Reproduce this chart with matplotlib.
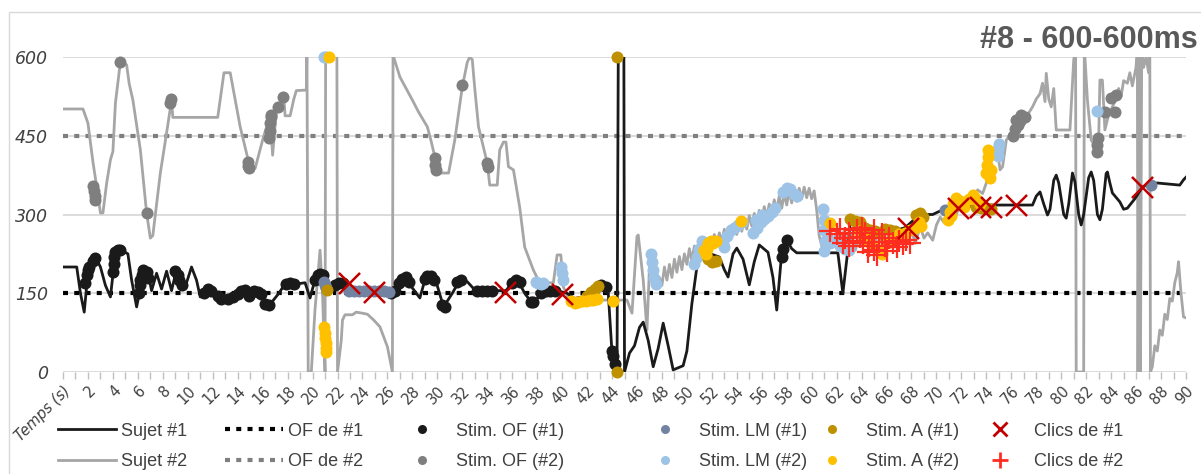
import numpy as np
import matplotlib
matplotlib.use("Agg")
import matplotlib.pyplot as plt
from matplotlib.lines import Line2D
from matplotlib.patches import Rectangle

# Sujet #1 (time s, value ms)
s1 = [(0, 200), (1.1, 200), (1.4, 150), (1.7, 114), (2.0, 190), (2.3, 210), (2.6, 219), (3.0, 200),
      (3.4, 165), (3.8, 143), (4.0, 185), (4.2, 230), (4.7, 232), (5.2, 225), (5.5, 175), (5.9, 124),
      (6.2, 160), (6.5, 195), (6.8, 190), (7.1, 155), (7.5, 188), (7.9, 158), (8.3, 192), (8.7, 155),
      (9.1, 195), (9.5, 160), (9.9, 170), (10.3, 200), (10.7, 175), (11.0, 143), (11.4, 152), (11.8, 160),
      (12.2, 148), (12.6, 140), (13.0, 142), (13.4, 140), (13.8, 143), (14.2, 152), (14.6, 158), (15.0, 145),
      (15.4, 155), (15.8, 150), (16.3, 128), (16.8, 135), (17.3, 150), (17.8, 168), (18.2, 170), (18.8, 168),
      (19.4, 170), (19.8, 141), (20.3, 185), (20.8, 185), (21.3, 155), (21.7, 165), (22.2, 170), (22.8, 160),
      (23.5, 155), (24.5, 155), (25.5, 155), (26.2, 150), (26.5, 155), (27.0, 175), (27.5, 181), (28.0, 160),
      (28.6, 141), (29.0, 175), (29.3, 183), (29.8, 180), (30.5, 124), (31.2, 150), (31.8, 175), (32.4, 172),
      (32.9, 159), (33.5, 155), (34.5, 155), (35.5, 155), (36.0, 170), (36.4, 177), (37.0, 150), (37.6, 131),
      (38.0, 140), (38.6, 152), (39.5, 155), (40.4, 150), (41.0, 140), (42.0, 145), (42.8, 160), (43.3, 166),
      (43.7, 150), (44.0, 36), (44.4, 4), (44.5, 600), (44.95, 600), (45.0, 0), (45.4, 36), (45.8, 50),
      (46.2, 85), (46.5, 95), (46.9, 60), (47.3, 10), (47.7, 45), (48.1, 93), (48.5, 50), (48.9, 4),
      (49.7, 12), (50.0, 40), (50.4, 130), (50.8, 200), (51.2, 223), (51.9, 225), (52.6, 219), (53.0, 195),
      (53.3, 181), (53.7, 225), (54.0, 236), (54.5, 215), (55.0, 166), (55.4, 210), (55.8, 242), (56.5, 228),
      (56.9, 180), (57.2, 118), (57.6, 227), (58.0, 251), (58.4, 235), (58.8, 227), (62.1, 227), (62.5, 150),
      (62.9, 232), (63.1, 293), (63.5, 285), (64.5, 275), (65.5, 270), (66.5, 268), (67.5, 275), (68.2, 290),
      (68.9, 300), (69.7, 300), (70.5, 309), (71.5, 312), (72.5, 315), (73.5, 316), (74.0, 318), (77.7, 318),
      (78.0, 335), (78.3, 343), (78.6, 320), (78.9, 299), (79.1, 310), (79.4, 365), (79.6, 375), (79.8, 360),
      (80.2, 300), (80.4, 293), (80.6, 320), (80.9, 379), (81.1, 362), (81.4, 300), (81.6, 280), (81.8, 300),
      (82.2, 370), (82.4, 381), (82.6, 365), (82.9, 300), (83.1, 290), (83.3, 310), (83.6, 378), (83.7, 381),
      (83.9, 360), (84.1, 341), (84.7, 324), (85.0, 310), (85.3, 312), (85.9, 330), (86.5, 352), (87.0, 358),
      (87.7, 360), (89.5, 356), (89.8, 366), (90.0, 371)]

# Sujet #2
s2 = [(0, 501), (1.6, 501), (2.0, 474), (2.4, 400), (2.7, 353), (3.0, 303), (3.2, 303), (3.5, 360),
      (3.8, 404), (4.0, 420), (4.2, 512), (4.6, 591), (5.1, 585), (5.3, 550), (5.6, 518), (6.2, 423),
      (6.7, 303), (7.0, 255), (7.2, 260), (7.5, 320), (7.8, 379), (8.3, 455), (8.7, 518), (8.8, 485),
      (12.4, 485), (12.9, 570), (13.4, 570), (14.2, 467), (14.9, 398), (15.4, 388), (16.0, 442), (16.6, 490),
      (16.8, 413), (17.1, 499), (17.7, 524), (17.8, 488), (18.2, 488), (18.5, 520), (18.7, 536), (19.5, 537),
      (19.55, 620), (19.65, 0), (19.9, 0), (20.2, 120), (20.6, 232), (20.8, 150), (21.0, 0), (21.05, 620),
      (21.95, 620), (22.0, 0), (22.3, 60), (22.4, 99), (22.6, 109), (23.2, 109), (23.5, 114), (24.0, 112),
      (24.4, 110), (24.9, 99), (25.4, 86), (26.0, 48), (26.4, 0), (26.45, 620), (26.5, 600), (27.0, 562),
      (28.0, 518), (28.5, 495), (29.2, 467), (29.5, 440), (29.8, 410), (30.0, 379), (30.9, 379), (31.4, 442),
      (32.0, 543), (32.4, 590), (32.6, 600), (32.8, 595), (33.0, 540), (33.3, 467), (34.0, 398), (34.2, 356),
      (34.8, 356), (35.0, 423), (35.3, 438), (35.5, 438), (35.7, 391), (36.1, 385), (36.6, 314), (37.0, 238),
      (37.7, 194), (38.2, 170), (39.3, 170), (39.6, 223), (39.9, 223), (40.1, 162), (40.6, 137), (45.2, 137),
      (45.6, 112), (46.0, 258), (46.1, 261), (46.5, 175), (46.8, 80), (47.0, 200), (47.2, 226), (47.6, 162),
      (47.8, 180), (48.0, 165), (48.2, 200), (48.4, 175), (48.6, 205), (48.8, 180), (49.0, 215), (49.2, 190),
      (49.4, 220), (49.6, 195), (49.8, 225), (50.0, 205), (50.2, 235), (50.4, 212), (50.6, 240), (50.8, 220),
      (51.0, 245), (51.2, 228), (51.4, 250), (51.6, 232), (51.8, 255), (52.0, 238), (52.2, 262), (52.4, 242),
      (52.6, 265), (52.8, 248), (53.0, 272), (53.2, 252), (53.4, 277), (53.6, 258), (53.8, 282), (54.0, 262),
      (54.2, 288), (54.4, 268), (54.6, 292), (54.8, 272), (55.0, 298), (55.2, 278), (55.4, 302), (55.6, 282),
      (55.8, 308), (56.0, 290), (56.2, 315), (56.4, 295), (56.6, 320), (56.8, 300), (57.0, 328), (57.2, 308),
      (57.4, 335), (57.6, 312), (57.8, 340), (58.0, 318), (58.2, 345), (58.4, 322), (58.6, 348), (58.8, 325),
      (59.0, 350), (59.2, 330), (59.4, 352), (59.6, 332), (59.8, 350), (60.0, 330), (60.2, 345), (60.4, 309),
      (60.6, 260), (60.9, 232), (61.1, 260), (61.3, 240), (61.5, 270), (61.7, 245), (62.0, 268), (62.3, 240),
      (62.6, 270), (62.9, 235), (63.2, 262), (63.5, 232), (63.8, 260), (64.1, 238), (64.4, 262), (64.7, 240),
      (65.0, 265), (65.3, 240), (65.6, 258), (65.9, 238), (66.2, 262), (66.5, 240), (66.8, 265), (67.1, 245),
      (67.4, 268), (67.7, 248), (68.0, 270), (68.3, 245), (68.7, 277), (69.0, 255), (69.3, 265), (69.7, 251),
      (70.0, 280), (70.3, 295), (70.6, 285), (71.0, 300), (71.4, 290), (71.8, 312), (72.4, 328), (72.8, 318),
      (73.3, 347), (73.7, 340), (74.0, 360), (74.1, 404), (74.5, 420), (74.9, 420), (75.1, 385), (75.3, 391),
      (75.6, 442), (75.9, 451), (76.2, 460), (76.6, 475), (77.2, 486), (77.7, 505), (78.0, 520), (78.3, 530),
      (78.5, 550), (78.7, 515), (78.8, 569), (79.0, 520), (79.2, 505), (79.4, 540), (79.6, 461), (80.0, 461),
      (80.7, 461), (81.0, 594), (81.15, 620), (81.2, 0), (81.8, 0), (81.85, 620), (82.1, 518), (82.4, 442),
      (82.9, 423), (83.0, 440), (83.1, 556), (83.3, 556), (83.5, 461), (83.8, 490), (84.0, 500), (84.3, 515),
      (84.6, 540), (84.8, 525), (85.0, 555), (85.3, 550), (85.5, 570), (85.7, 545), (86.0, 581), (86.1, 620),
      (86.15, 0), (86.25, 620), (86.35, 0), (86.45, 620), (86.6, 580), (86.8, 600), (87.0, 570), (87.1, 620),
      (87.15, 0), (87.3, 10), (87.5, 50), (87.7, 40), (87.9, 80), (88.1, 70), (88.3, 110), (88.5, 100),
      (88.7, 140), (88.9, 135), (89.1, 170), (89.3, 189), (89.4, 210), (89.6, 150), (89.8, 105), (90.0, 103)]

of1_level = 150
of2_level = 450

stim_of1 = [(1.8, 170), (1.9, 185), (2.0, 195), (2.1, 200), (2.4, 212), (2.6, 218), (4.0, 190), (4.05, 205),
            (4.1, 220), (4.2, 228), (4.4, 232), (4.6, 232), (6.1, 150), (6.15, 165), (6.2, 175), (6.3, 185),
            (6.4, 195), (6.7, 190), (6.8, 180), (9.0, 192), (9.2, 185), (9.3, 175), (9.5, 165), (11.3, 150),
            (11.6, 158), (11.9, 155), (12.4, 145), (12.7, 140), (13.2, 140), (13.6, 142), (14.0, 148), (14.3, 155),
            (14.6, 156), (14.9, 145), (15.3, 155), (15.6, 152), (15.9, 148), (16.2, 130), (16.5, 128), (17.9, 168),
            (18.2, 170), (18.5, 168), (20.2, 175), (20.4, 185), (20.6, 186), (20.8, 185), (21.8, 165), (22.1, 170),
            (22.4, 170), (26.3, 150), (26.6, 155), (26.9, 170), (27.2, 178), (27.5, 181), (27.7, 172), (29.0, 178),
            (29.2, 183), (29.5, 183), (29.7, 175), (30.4, 128), (30.6, 124), (31.6, 172), (31.9, 176), (33.2, 155),
            (33.6, 155), (34.0, 155), (34.4, 155), (36.0, 170), (36.3, 176), (36.6, 172), (37.5, 133), (37.7, 133),
            (38.3, 150), (38.7, 155), (39.0, 155), (39.4, 155), (43.1, 165), (43.5, 162), (44.0, 40), (44.1, 30),
            (44.2, 15), (57.6, 220), (57.7, 235), (58.0, 251)]
stim_of2 = [(2.4, 355), (2.5, 345), (2.55, 335), (2.6, 328), (4.6, 591), (6.7, 303), (8.6, 512), (8.65, 520),
            (14.8, 400), (14.85, 392), (14.9, 388), (16.5, 445), (16.55, 460), (16.6, 475), (16.65, 485),
            (16.7, 490), (17.2, 505), (17.6, 524), (29.8, 408), (29.85, 395), (29.9, 385), (32.0, 547),
            (34.0, 398), (34.05, 390), (76.1, 450), (76.3, 462), (76.5, 470), (76.7, 478), (76.9, 485),
            (77.1, 486), (76.4, 480), (76.8, 490), (82.9, 420), (82.9, 432), (82.95, 445), (83.5, 495),
            (84.0, 522), (84.3, 495), (84.4, 528)]
stim_lm1 = [(20.9, 172), (21.0, 165), (21.1, 160), (22.9, 155), (23.3, 155), (23.7, 155), (24.1, 155),
            (24.5, 155), (24.9, 155), (25.3, 155), (25.7, 155), (26.1, 153), (70.7, 308), (87.2, 356)]
stim_lm2 = [(20.95, 600), (21.05, 600), (37.9, 172), (38.1, 170), (38.3, 168), (38.5, 170), (39.9, 200),
            (40.0, 188), (40.1, 176), (47.1, 225), (47.2, 210), (47.3, 195), (47.4, 180), (47.5, 168),
            (50.6, 205), (50.8, 220), (51.0, 235), (51.2, 250), (52.9, 245), (53.0, 238), (53.2, 260),
            (53.5, 270), (53.8, 275), (54.1, 280), (54.4, 285), (55.3, 265), (55.5, 290), (55.6, 275),
            (55.9, 285), (56.0, 300), (56.2, 292), (56.5, 298), (56.8, 305), (57.1, 312), (57.7, 342),
            (58.0, 350), (58.3, 348), (58.6, 340), (58.8, 335), (60.9, 310), (60.95, 290), (61.0, 270),
            (61.1, 250), (61.0, 230), (61.5, 245), (61.9, 250), (62.3, 240), (62.7, 235), (63.0, 232),
            (74.9, 412), (74.95, 425), (75.0, 434), (82.9, 497)]
stim_a1 = [(21.15, 156), (42.0, 145), (42.3, 152), (42.6, 158), (42.9, 163), (44.4, 0), (44.4, 600),
           (51.7, 215), (52.0, 210), (52.3, 212), (63.1, 292), (63.5, 288), (63.9, 285), (64.3, 275),
           (64.7, 270), (65.1, 268), (65.5, 265), (65.9, 272), (66.3, 270), (66.7, 268), (68.4, 300),
           (68.7, 302), (68.9, 296), (73.2, 315), (73.6, 312), (74.0, 313), (74.4, 310)]
stim_a2 = [(20.95, 85), (21.0, 75), (21.0, 65), (21.05, 55), (21.05, 45), (21.1, 38), (21.35, 600),
           (40.7, 135), (41.0, 132), (41.3, 133), (41.6, 135), (41.9, 135), (42.2, 137), (42.5, 138),
           (42.8, 140), (44.1, 135), (51.4, 232), (51.5, 225), (51.6, 235), (51.7, 245), (51.9, 250),
           (52.1, 245), (52.3, 250), (54.3, 288), (61.5, 284), (63.8, 268), (64.2, 255), (64.6, 248),
           (65.0, 240), (65.3, 232), (65.6, 225), (66.0, 245), (66.5, 255), (67.0, 262), (67.5, 265),
           (67.9, 270), (68.3, 275), (68.6, 285), (68.8, 278), (70.9, 290), (71.1, 305), (71.2, 298),
           (71.3, 320), (71.6, 332), (71.9, 325), (72.2, 315), (72.6, 330), (72.9, 338), (73.2, 330),
           (73.5, 320), (74.0, 380), (74.05, 395), (74.1, 410), (74.15, 423), (74.3, 370), (74.4, 385)]
clics1 = [(22.9, 170), (24.9, 153), (35.4, 153), (40.0, 149), (67.7, 274), (71.7, 312), (73.5, 314),
          (74.4, 314), (76.4, 318), (86.5, 352)]
clics2 = [(61.5, 268), (62.0, 262), (62.3, 272), (62.7, 255), (63.0, 265), (63.3, 250), (63.6, 270),
          (63.9, 258), (64.1, 245), (64.3, 265), (64.6, 240), (64.8, 255), (65.0, 232), (65.2, 222),
          (65.4, 248), (65.6, 262), (65.9, 240), (66.2, 255), (66.5, 245), (66.8, 238), (67.0, 250),
          (67.3, 243), (67.6, 252), (64.0, 275), (63.0, 240), (65.0, 270), (66.0, 230), (67.9, 245),
          (62.5, 245), (64.5, 228)]

title = "#8 - 600-600ms"
y_ticks = [0, 150, 300, 450, 600]
x_ticks = list(range(0, 91, 2))
x_labels = ["Temps (s)"] + [str(t) for t in x_ticks[1:]]

C_S1 = "#1a1a1a"
C_S2 = "#a6a6a6"
C_OF2 = "#7f7f7f"
C_LM1 = "#7283a2"
C_LM2 = "#9dc3e6"
C_A1 = "#bf9000"
C_A2 = "#ffc000"
C_CL1 = "#c00000"
C_CL2 = "#ff2d1f"
TXT = "#404040"

fig = plt.figure(figsize=(12.01, 4.74), dpi=100)
ax = fig.add_axes([63 / 1201, 1 - 372 / 474, (1186 - 63) / 1201, (372 - 57) / 474])

# chart border
fig.patches.append(Rectangle((9 / 1201, -0.02), 1.02, 1 - 12 / 474 + 0.02, transform=fig.transFigure,
                             fill=False, ec="#d9d9d9", lw=1))

for yv in y_ticks:
    ax.axhline(yv, color="#d9d9d9", lw=1.3, zorder=0)

def xy(pts):
    a = np.array(pts, dtype=float)
    return a[:, 0], a[:, 1]

ax.axhline(of1_level, color="black", lw=3, ls=(0, (1.2, 1.5)), zorder=1)
ax.axhline(of2_level, color=C_OF2, lw=3, ls=(0, (1.2, 1.5)), zorder=1)
t, v = xy(s2)
ax.plot(t, v, color=C_S2, lw=2.0, zorder=2, solid_joinstyle="round")
t, v = xy(s1)
ax.plot(t, v, color=C_S1, lw=2.0, zorder=3, solid_joinstyle="round")

ms = 75
for pts, c, z in [(stim_of1, C_S1, 4), (stim_of2, C_OF2, 4), (stim_lm1, C_LM1, 5), (stim_lm2, C_LM2, 5),
                  (stim_a1, C_A1, 6), (stim_a2, C_A2, 6)]:
    t, v = xy(pts)
    ax.scatter(t, v, s=ms, color=c, lw=0, zorder=z, clip_on=False)
t, v = xy(clics2)
ax.scatter(t, v, s=260, marker="+", color=C_CL2, lw=1.6, zorder=7)
t, v = xy(clics1)
ax.scatter(t, v, s=230, marker="x", color=C_CL1, lw=1.8, zorder=8)

ax.set_xlim(0, 90)
ax.set_ylim(0, 600)
for s in ax.spines.values():
    s.set_visible(False)
ax.set_yticks(y_ticks)
ax.set_yticklabels([str(y) for y in y_ticks], fontstyle="italic", fontsize=12.5, color=TXT)
ax.tick_params(axis="y", length=0, pad=11)
ax.set_xticks(x_ticks)
ax.set_xticks(range(0, 91), minor=True)
ax.set_xticklabels(x_labels, rotation=45, ha="right", va="top", rotation_mode="anchor",
                   fontsize=10.5, color=TXT)
ax.get_xticklabels()[0].set_fontstyle("italic")
ax.tick_params(axis="x", which="both", length=5, color="#bfbfbf", width=1, pad=3)

fig.text(1198 / 1201, 1 - 40 / 474, title, ha="right", va="center", fontsize=22, fontweight="bold",
         color="#595959", family=["Liberation Sans", "DejaVu Sans"])

# legend: six columns of two entries each
dot = dict(marker="o", ls="none", markersize=6.5, markeredgewidth=0)
cols = [
    [Line2D([], [], color=C_S1, lw=2), Line2D([], [], color=C_S2, lw=2)],
    [Line2D([], [], color="black", lw=3, ls=(0, (1.2, 1.5))), Line2D([], [], color=C_OF2, lw=3, ls=(0, (1.2, 1.5)))],
    [Line2D([], [], color=C_S1, **dot), Line2D([], [], color=C_OF2, **dot)],
    [Line2D([], [], color=C_LM1, **dot), Line2D([], [], color=C_LM2, **dot)],
    [Line2D([], [], color=C_A1, **dot), Line2D([], [], color=C_A2, **dot)],
    [Line2D([], [], color=C_CL1, marker="x", ls="none", markersize=10, mew=2),
     Line2D([], [], color=C_CL2, marker="+", ls="none", markersize=11, mew=2)],
]
labels = [["Sujet #1", "Sujet #2"], ["OF de #1", "OF de #2"], ["Stim. OF (#1)", "Stim. OF (#2)"],
          ["Stim. LM (#1)", "Stim. LM (#2)"], ["Stim. A (#1)", "Stim. A (#2)"], ["Clics de #1", "Clics de #2"]]
col_x = [58, 225, 393, 636, 803, 971]
for hx, hs, ls in zip(col_x, cols, labels):
    lg = fig.legend(hs, ls, loc="center left", bbox_to_anchor=(hx / 1201, 1 - 446.5 / 474),
                    frameon=False, borderpad=0, borderaxespad=0, handlelength=3.2, handletextpad=0.3,
                    labelspacing=0.75, prop={"family": ["Liberation Sans Narrow", "Liberation Sans"], "size": 13})
    for tx in lg.get_texts():
        tx.set_color(TXT)

fig.savefig("out.png", dpi=100)
